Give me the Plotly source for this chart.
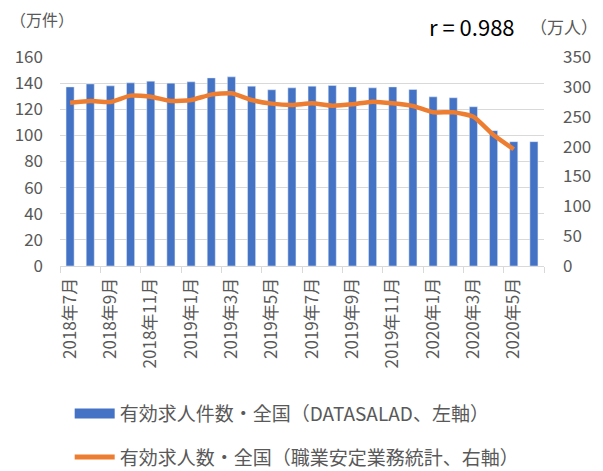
import plotly.graph_objects as go

months = ["2018年7月", "2018年8月", "2018年9月", "2018年10月", "2018年11月", "2018年12月",
          "2019年1月", "2019年2月", "2019年3月", "2019年4月", "2019年5月", "2019年6月",
          "2019年7月", "2019年8月", "2019年9月", "2019年10月", "2019年11月", "2019年12月",
          "2020年1月", "2020年2月", "2020年3月", "2020年4月", "2020年5月", "2020年6月"]
datasalad = [137.1, 139.4, 137.9, 140.2, 141.5, 140.0, 141.0, 144.0, 144.8, 137.7, 134.9, 136.4,
             137.7, 138.2, 137.1, 136.4, 137.1, 135.1, 129.5, 128.8, 121.9, 103.6, 95.2, 95.2]
stats_months = months[:23]
stats = [273.5, 276.4, 274.7, 285.3, 283.6, 276.4, 278.0, 287.0, 289.3, 278.0, 271.9, 269.7,
         272.5, 268.5, 270.8, 275.2, 272.5, 268.0, 257.5, 257.5, 250.0, 219.4, 195.5]
left_ticks = [0, 20, 40, 60, 80, 100, 120, 140, 160]
right_ticks = [0, 50, 100, 150, 200, 250, 300, 350]
name_bar = "有効求人件数・全国（DATASALAD、左軸）"
name_line = "有効求人数・全国（職業安定業務統計、右軸）"

FONT = "Noto Sans CJK JP"
GRAY = "#595959"
BLUE = "#4472C4"
ORANGE = "#ED7D31"

fig = go.Figure()
fig.add_trace(go.Bar(
    x=months, y=datasalad, name=name_bar,
    marker=dict(color=BLUE), showlegend=False, yaxis="y",
))
fig.add_trace(go.Scatter(
    x=stats_months, y=stats, name=name_line,
    mode="lines", line=dict(color=ORANGE, width=4.5, shape="spline", smoothing=0.5),
    showlegend=False, yaxis="y2",
))
# legend entries
fig.add_trace(go.Scatter(x=[None], y=[None], name=name_bar, mode="lines",
                         line=dict(color=BLUE, width=11), legendgroup="a"))
fig.add_trace(go.Scatter(x=[None], y=[None], name=name_line, mode="lines",
                         line=dict(color=ORANGE, width=5), legendgroup="b"))

# page body has an 8px margin, so the figure is 8px smaller than the window
fig.update_layout(
    width=595, height=463,
    margin=dict(l=52, r=59, t=49, b=205, autoexpand=False),
    paper_bgcolor="white", plot_bgcolor="white",
    font=dict(family=FONT, size=17, color=GRAY),
    bargap=0.6,
    showlegend=True,
    legend=dict(orientation="v", x=0.02, xanchor="left", y=-0.615, yanchor="top",
                tracegroupgap=16, font=dict(size=19, color=GRAY), itemwidth=40,
                bgcolor="rgba(0,0,0,0)"),
    xaxis=dict(type="category", categoryorder="array", categoryarray=months,
               tickangle=-90, dtick=2, tickson="boundaries", ticks="outside",
               ticklen=6, tickcolor="#D9D9D9", showline=True, linecolor="#D9D9D9",
               showgrid=False, tickfont=dict(size=17, color=GRAY),
               ticklabelstandoff=4),
    yaxis=dict(range=[0, 160], tickvals=left_ticks, showgrid=True, gridcolor="#D9D9D9",
               gridwidth=1, zeroline=False, tickfont=dict(size=17, color=GRAY), ticks="",
               ticklabelstandoff=16),
    yaxis2=dict(range=[0, 350], tickvals=right_ticks, overlaying="y", side="right",
                showgrid=False, zeroline=False, tickfont=dict(size=17, color=GRAY),
                ticklabelstandoff=18),
    annotations=[
        dict(text="（万件）", xref="paper", yref="paper", x=-0.107, y=1.18,
             xanchor="left", yanchor="middle", showarrow=False,
             font=dict(size=16, color=GRAY)),
        dict(text="r = 0.988", xref="paper", yref="paper", x=0.758, y=1.148,
             xanchor="left", yanchor="middle", showarrow=False,
             font=dict(size=22, color="black")),
        dict(text="（万人）", xref="paper", yref="paper", x=0.967, y=1.148,
             xanchor="left", yanchor="middle", showarrow=False,
             font=dict(size=17, color=GRAY)),
    ],
)

fig.write_html("out.html")
